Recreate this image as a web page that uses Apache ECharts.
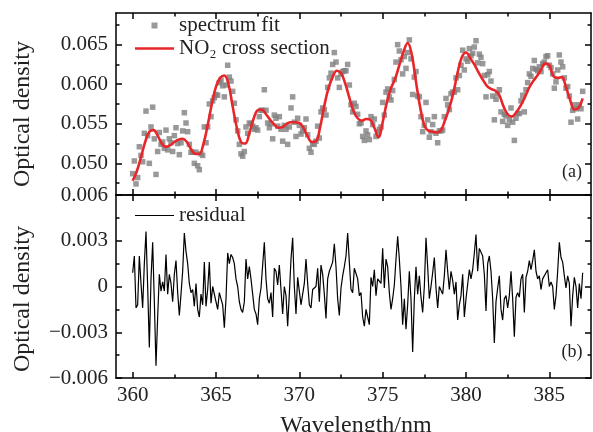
<!DOCTYPE html>
<html><head><meta charset="utf-8">
<script src="https://cdn.jsdelivr.net/npm/echarts@6/dist/echarts.min.js"></script>
<style>html,body{margin:0;padding:0;background:#fff}#c{width:593px;height:432px}</style>
</head><body><div id="c"></div>
<script>
// sampling of measured spectrum / residual (nm)
const sampleStart = 360.0, sampleStep = 0.1;
// measured optical density (gray squares), 360.0 - 387.0 nm
const spectrumFit = [
0.0487,0.0503,0.0474,0.0482,0.0521,0.0510,0.0502,0.0538,0.0566,0.0535,
0.0500,0.0546,0.0571,0.0531,0.0486,0.0515,0.0539,0.0524,0.0527,0.0519,
0.0542,0.0517,0.0531,0.0526,0.0515,0.0535,0.0545,0.0525,0.0511,0.0526,
0.0541,0.0564,0.0551,0.0540,0.0524,0.0514,0.0514,0.0500,0.0514,0.0497,
0.0492,0.0512,0.0510,0.0546,0.0526,0.0546,0.0575,0.0559,0.0579,0.0583,
0.0587,0.0586,0.0602,0.0605,0.0598,0.0584,0.0599,0.0624,0.0609,0.0604,
0.0591,0.0576,0.0555,0.0541,0.0524,0.0512,0.0509,0.0515,0.0546,0.0538,
0.0551,0.0550,0.0547,0.0543,0.0545,0.0542,0.0559,0.0567,0.0567,0.0593,
0.0567,0.0551,0.0545,0.0550,0.0531,0.0561,0.0557,0.0547,0.0559,0.0543,
0.0528,0.0548,0.0543,0.0524,0.0546,0.0570,0.0584,0.0552,0.0534,0.0557,
0.0548,0.0537,0.0541,0.0545,0.0556,0.0536,0.0519,0.0514,0.0525,0.0524,
0.0528,0.0547,0.0532,0.0565,0.0570,0.0568,0.0561,0.0596,0.0608,0.0614,
0.0625,0.0640,0.0628,0.0608,0.0596,0.0613,0.0616,0.0617,0.0617,0.0625,
0.0599,0.0574,0.0565,0.0576,0.0572,0.0562,0.0550,0.0551,0.0534,0.0529,
0.0541,0.0536,0.0530,0.0559,0.0549,0.0556,0.0534,0.0540,0.0543,0.0546,
0.0577,0.0561,0.0590,0.0594,0.0584,0.0580,0.0592,0.0606,0.0628,0.0650,
0.0642,0.0631,0.0613,0.0635,0.0620,0.0640,0.0656,0.0632,0.0587,0.0609,
0.0616,0.0585,0.0584,0.0559,0.0540,0.0548,0.0577,0.0555,0.0533,0.0540,
0.0549,0.0559,0.0538,0.0526,0.0541,0.0541,0.0542,0.0559,0.0582,0.0574,
0.0568,0.0588,0.0590,0.0590,0.0608,0.0593,0.0611,0.0624,0.0643,0.0618,
0.0632,0.0629,0.0645,0.0636,0.0639,0.0647,0.0655,0.0627,0.0638,0.0634,
0.0626,0.0611,0.0584,0.0612,0.0616,0.0604,0.0585,0.0555,0.0581,0.0588,
0.0593,0.0565,0.0553,0.0562,0.0560,0.0548,0.0555,0.0570,0.0552,0.0529,
0.0557,0.0563,0.0563,0.0579,0.0586,0.0565,0.0593,0.0602,0.0613,0.0610,
0.0620,0.0630,0.0619,0.0617,0.0622,0.0616,0.0626,0.0628,0.0635,0.0636,
0.0624,0.0621,0.0613,0.0595,0.0603,0.0618,0.0637,0.0628,0.0622,0.0608,
0.0595,0.0597,0.0585,0.0552,0.0567,0.0574,0.0569,0.0556,0.0574,0.0569,
0.0591];
// residual, same sampling
const residual = [
0.0009,0.0020,-0.0014,-0.0012,0.0020,0.0002,-0.0014,0.0015,0.0036,0.0000,
-0.0040,0.0005,0.0029,-0.0010,-0.0052,-0.0020,0.0008,-0.0003,0.0003,-0.0003,
0.0021,-0.0005,0.0008,0.0002,-0.0010,0.0008,0.0017,-0.0004,-0.0019,-0.0005,
0.0010,0.0035,0.0023,0.0015,0.0002,-0.0004,-0.0002,-0.0013,0.0002,-0.0015,
-0.0020,-0.0005,-0.0012,0.0016,-0.0013,-0.0002,0.0016,-0.0011,0.0000,-0.0005,
-0.0010,-0.0015,-0.0004,-0.0004,-0.0012,-0.0027,-0.0008,0.0022,0.0015,0.0021,
0.0019,0.0015,0.0005,0.0000,-0.0010,-0.0015,-0.0017,-0.0010,0.0018,0.0005,
0.0013,0.0005,-0.0005,-0.0015,-0.0018,-0.0025,-0.0008,-0.0001,0.0000,0.0029,
0.0005,-0.0008,-0.0011,-0.0004,-0.0020,0.0012,0.0010,0.0001,0.0014,-0.0002,
-0.0018,0.0000,-0.0006,-0.0026,-0.0005,0.0018,0.0032,0.0000,-0.0018,0.0006,
-0.0003,-0.0012,-0.0005,0.0002,0.0018,0.0002,-0.0012,-0.0014,-0.0002,-0.0003,
0.0000,0.0012,-0.0010,0.0014,0.0008,-0.0005,-0.0021,0.0005,0.0010,0.0011,
0.0016,0.0028,0.0013,-0.0008,-0.0019,-0.0001,0.0007,0.0013,0.0020,0.0035,
0.0016,-0.0002,-0.0004,0.0012,0.0011,0.0005,-0.0006,-0.0004,-0.0020,-0.0026,
-0.0015,-0.0020,-0.0025,0.0006,0.0000,0.0011,-0.0006,0.0005,0.0006,0.0002,
0.0025,-0.0001,0.0018,0.0013,-0.0004,-0.0015,-0.0008,0.0001,0.0018,0.0033,
0.0018,0.0000,-0.0025,-0.0008,-0.0028,-0.0012,0.0010,-0.0008,-0.0043,-0.0008,
0.0013,-0.0005,0.0007,-0.0007,-0.0017,0.0000,0.0032,0.0013,-0.0008,0.0000,
0.0009,0.0019,-0.0001,-0.0014,0.0000,-0.0001,-0.0005,0.0007,0.0024,0.0010,
-0.0002,0.0010,0.0004,-0.0005,0.0003,-0.0022,-0.0012,-0.0006,0.0008,-0.0020,
-0.0008,-0.0008,0.0011,0.0005,0.0011,0.0022,0.0034,0.0010,0.0025,0.0024,
0.0020,0.0008,-0.0016,0.0015,0.0020,0.0010,-0.0008,-0.0037,-0.0010,-0.0001,
0.0007,-0.0015,-0.0022,-0.0008,-0.0006,-0.0014,-0.0006,0.0010,-0.0008,-0.0033,
-0.0007,-0.0004,-0.0007,0.0005,0.0008,-0.0017,0.0006,0.0010,0.0017,0.0011,
0.0017,0.0024,0.0010,0.0005,0.0007,-0.0002,0.0005,0.0004,0.0009,0.0011,
0.0000,0.0003,0.0000,-0.0015,-0.0006,0.0010,0.0029,0.0019,0.0016,0.0007,
-0.0001,0.0007,0.0002,-0.0026,-0.0006,0.0006,0.0000,-0.0014,0.0002,-0.0008,
0.0009];
// NO2 cross-section fit, every 0.25 nm from 360.0 to 387.0
const fitStart = 360.0, fitStep = 0.25;
const crossSection = [
0.0478,0.0490,0.0508,0.0527,0.0540,0.0542,0.0535,0.0525,0.0521,0.0523,
0.0527,0.0530,0.0531,0.0527,0.0518,0.0512,0.0512,0.0525,0.0548,0.0575,
0.0597,0.0608,0.0611,0.0600,0.0572,0.0545,0.0527,0.0525,0.0538,0.0556,
0.0567,0.0568,0.0562,0.0555,0.0549,0.0545,0.0546,0.0550,0.0552,0.0552,
0.0551,0.0545,0.0534,0.0527,0.0528,0.0546,0.0573,0.0595,0.0609,0.0617,
0.0614,0.0601,0.0583,0.0566,0.0557,0.0554,0.0556,0.0555,0.0545,0.0533,
0.0552,0.0577,0.0595,0.0607,0.0624,0.0641,0.0652,0.0637,0.0603,0.0571,
0.0548,0.0541,0.0540,0.0539,0.0542,0.0555,0.0570,0.0590,0.0615,0.0634,
0.0640,0.0633,0.0625,0.0615,0.0606,0.0598,0.0594,0.0592,0.0586,0.0572,
0.0562,0.0559,0.0564,0.0572,0.0582,0.0594,0.0603,0.0610,0.0618,0.0626,
0.0624,0.0610,0.0608,0.0609,0.0596,0.0580,0.0568,0.0570,0.0582];
// ticks
const xMajor = [360,365,370,375,380,385];
const xMinor = [362.5,367.5,372.5,377.5,382.5];
const yTopMajor = [0.050,0.055,0.060,0.065];
const yTopMinor = [0.0475,0.0525,0.0575,0.0625,0.0675];
const yBotMajor = [-0.006,-0.003,0,0.003,0.006];
const yBotMinor = [-0.0045,-0.0015,0.0015,0.0045];
const seriesNames = ['spectrum fit','NO\u2082 cross section','residual'];

const FONT = 'Liberation Serif';
const spec = spectrumFit.map((v,i)=>[+(sampleStart+i*sampleStep).toFixed(1), v]);
const res = residual.map((v,i)=>[+(sampleStart+i*sampleStep).toFixed(1), v]);
const fit = crossSection.map((v,i)=>[fitStart+i*fitStep, v]);

function xAx(grid, pos, major, labels){
  return {type:'value', gridIndex:grid, position:pos, min:359, max:387.5,
    axisLine:{show:major, onZero:false, lineStyle:{color:'#000', width:1.5}},
    axisTick:{show:true, inside:true, length: major?6:3.5, customValues: major?xMajor:xMinor, lineStyle:{color:'#000', width:1.5}},
    axisLabel:{show:!!labels, customValues:xMajor, margin:7, color:'#222', fontFamily:FONT, fontSize:21},
    splitLine:{show:false}};
}
function yAx(grid, pos, major, mn, mx, majVals, minVals, labels, fmt){
  return {type:'value', gridIndex:grid, position:pos, min:mn, max:mx,
    axisLine:{show:major, onZero:false, lineStyle:{color:'#000', width:1.5}},
    axisTick:{show:true, inside:true, length: major?6:3.5, customValues: major?majVals:minVals, lineStyle:{color:'#000', width:1.5}},
    axisLabel:{show:!!labels, customValues:majVals, margin:8, color:'#222', fontFamily:FONT, fontSize:21, formatter:fmt},
    splitLine:{show:false}};
}
const fmtTop = v => v.toFixed(3);
const fmtBot = v => Math.abs(v)<1e-9 ? '0' : (v<0 ? '\u2212'+Math.abs(v).toFixed(3) : v.toFixed(3));

const chart = echarts.init(document.getElementById('c'), null, {renderer:'canvas'});
chart.setOption({
  animation:false,
  backgroundColor:'#fff',
  grid:[{left:116, top:13, width:475, height:182},{left:116, top:195, width:475, height:183}],
  xAxis:[xAx(0,'bottom',true,false), xAx(0,'top',true,false), xAx(0,'bottom',false,false), xAx(0,'top',false,false),
         xAx(1,'bottom',true,true), xAx(1,'top',true,false), xAx(1,'bottom',false,false), xAx(1,'top',false,false)],
  yAxis:[yAx(0,'left',true,0.046,0.069,yTopMajor,yTopMinor,true,fmtTop), yAx(0,'right',true,0.046,0.069,yTopMajor,yTopMinor,false),
         yAx(0,'left',false,0.046,0.069,yTopMajor,yTopMinor,false), yAx(0,'right',false,0.046,0.069,yTopMajor,yTopMinor,false),
         yAx(1,'left',true,-0.006,0.006,yBotMajor,yBotMinor,true,fmtBot), yAx(1,'right',true,-0.006,0.006,yBotMajor,yBotMinor,false),
         yAx(1,'left',false,-0.006,0.006,yBotMajor,yBotMinor,false), yAx(1,'right',false,-0.006,0.006,yBotMajor,yBotMinor,false)],
  legend:[
    {orient:'vertical', left:135, top:15, padding:0, itemGap:2, itemWidth:39, itemHeight:6, symbolKeepAspect:true,
     textStyle:{fontFamily:FONT, fontSize:21, color:'#222'},
     data:[{name:seriesNames[0], icon:'path://M0 0H10V10H0Z'}, {name:seriesNames[1], icon:'path://M0 0H100V7H0Z'}]},
    {orient:'vertical', left:135, top:205, padding:0, itemWidth:39, itemHeight:6, symbolKeepAspect:true,
     textStyle:{fontFamily:FONT, fontSize:21, color:'#222'}, data:[{name:seriesNames[2], icon:'path://M0 0H100V3.2H0Z'}]}
  ],
  series:[
    {name:seriesNames[0], type:'scatter', xAxisIndex:0, yAxisIndex:0, data:spec, symbol:'rect', symbolSize:5.5,
     itemStyle:{color:'#808080'}, z:2},
    {name:seriesNames[1], type:'line', xAxisIndex:0, yAxisIndex:0, data:fit, smooth:0.4, symbol:'none',
     lineStyle:{color:'#e8262a', width:2.6}, itemStyle:{color:'#e8262a'}, z:3},
    {name:seriesNames[2], type:'line', xAxisIndex:4, yAxisIndex:4, data:res, symbol:'none',
     lineStyle:{color:'#000', width:1.2}, itemStyle:{color:'#000'}}
  ],
  graphic:[
    {type:'text', x:23, y:114, rotation:Math.PI/2, style:{text:'Optical density', fontFamily:FONT, fontSize:24, fill:'#222', textAlign:'center', textVerticalAlign:'middle'}},
    {type:'text', x:23, y:299, rotation:Math.PI/2, style:{text:'Optical density', fontFamily:FONT, fontSize:24, fill:'#222', textAlign:'center', textVerticalAlign:'middle'}},
    {type:'text', x:356, y:414, style:{text:'Wavelength/nm', fontFamily:FONT, fontSize:24, fill:'#222', textAlign:'center', textVerticalAlign:'top'}},
    {type:'text', x:572, y:172, style:{text:'(a)', fontFamily:FONT, fontSize:18, fill:'#222', textAlign:'center', textVerticalAlign:'middle'}},
    {type:'text', x:572, y:352, style:{text:'(b)', fontFamily:FONT, fontSize:18, fill:'#222', textAlign:'center', textVerticalAlign:'middle'}}
  ]
});
</script></body></html>
